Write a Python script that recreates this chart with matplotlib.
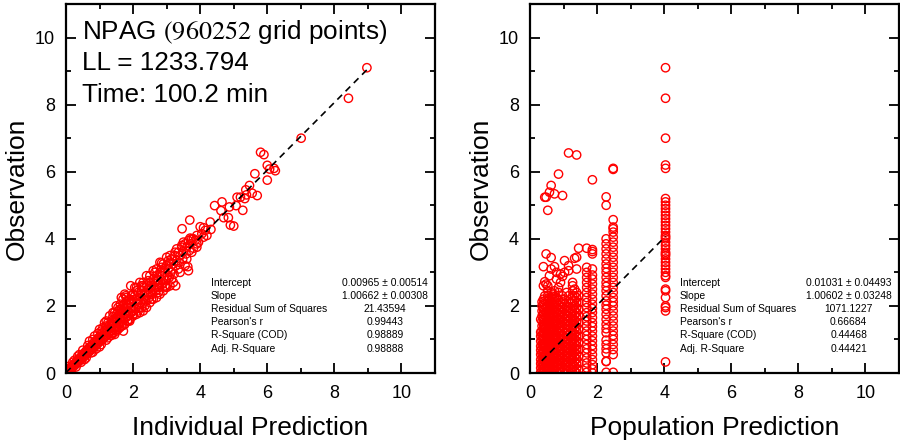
import matplotlib
matplotlib.use("Agg")
import matplotlib.pyplot as plt

plt.rcParams['font.family'] = ['Liberation Sans', 'DejaVu Sans']
plt.rcParams['mathtext.fontset'] = 'stix'

# ---- left panel: individual prediction vs observation ----
ipred = [0.05, 0.08, 0.10, 0.12, 0.15, 0.17, 0.20, 0.22, 0.25, 0.27, 0.30, 0.32, 0.35, 0.37, 0.40,
         0.42, 0.45, 0.47, 0.50, 0.52, 0.55, 0.57, 0.60, 0.62, 0.65, 0.67, 0.70, 0.72, 0.75, 0.77,
         0.80, 0.82, 0.85, 0.87, 0.90, 0.92, 0.95, 0.97, 1.00, 1.02, 1.05, 1.07, 1.10, 1.12, 1.15,
         1.17, 1.20, 1.22, 1.25, 1.27, 1.30, 1.32, 1.35, 1.37, 1.40, 1.42, 1.45, 1.47, 1.50, 1.52,
         1.55, 1.57, 1.60, 1.62, 1.65, 1.67, 1.70, 1.72, 1.75, 1.77, 1.80, 1.82, 1.85, 1.87, 1.90,
         1.92, 1.95, 1.97, 2.00, 2.02,
         0.12, 0.24, 0.36, 0.48, 0.58, 0.69, 0.79, 0.9, 1.0, 1.11, 1.21, 1.31, 1.42, 1.53, 1.63,
         1.74, 1.84, 1.95, 1.45, 1.55, 1.62, 1.7, 1.78, 1.38, 1.66, 1.83,
         2.05, 2.08, 2.10, 2.12, 2.15, 2.18, 2.20, 2.22, 2.25, 2.28, 2.30, 2.32, 2.35, 2.38, 2.40,
         2.42, 2.45, 2.48, 2.50, 2.52, 2.55, 2.58, 2.60, 2.62, 2.65, 2.68, 2.70, 2.72, 2.75, 2.78,
         2.80, 2.82, 2.85, 2.88, 2.90, 2.92, 2.95, 2.98, 3.00, 3.02, 2.15, 2.35, 2.55, 2.75, 2.3,
         3.05, 3.08, 3.10, 3.12, 3.15, 3.18, 3.20, 3.22, 3.25, 3.28, 3.30, 3.35, 3.38, 3.40, 3.45,
         3.48, 3.50, 3.55, 3.58, 3.60, 3.65, 3.68, 3.70, 3.75, 3.80, 3.85, 3.90, 3.95, 4.05, 4.15,
         4.20,
         0.15, 0.20, 0.30, 0.35, 0.45, 0.50, 0.60, 0.65, 0.75, 0.80, 0.90, 0.95, 1.05, 1.10, 1.20,
         1.25, 1.35, 1.40, 1.50, 1.55, 1.60, 1.70, 1.75, 1.80, 1.90, 1.95, 2.00, 1.65, 1.75, 1.50,
         1.30, 1.15, 1.00, 0.85, 0.70, 2.10, 2.20, 2.30, 2.40, 2.50, 2.60, 2.70, 2.80, 2.90, 3.00,
         3.10, 3.20, 3.30, 3.40, 3.50, 3.55, 2.25, 2.45, 2.65, 2.85, 3.05, 3.25, 3.45, 2.35, 2.55,
         2.75, 2.95, 3.15, 3.35, 3.60, 3.75, 3.90, 0.55, 0.40, 0.25, 0.10, 1.05, 1.20, 1.35, 1.50,
         1.65, 1.80, 1.90, 2.00, 2.10, 1.25, 1.40, 1.55, 1.70, 1.85, 2.00, 2.15, 2.25,
         2.05, 2.20, 2.40, 2.10, 2.30, 2.50, 2.70, 2.90, 3.10, 2.60, 2.80, 3.00, 1.20, 1.00, 0.80,
         1.45, 1.60, 1.80, 1.90, 1.40,
         8.97, 8.42, 7.01, 5.80, 5.90, 6.00, 6.07, 6.20, 6.24, 6.00, 5.63, 5.47, 5.36, 5.38, 5.70,
         5.10, 5.20, 5.33, 5.55, 4.43, 4.65, 4.87, 4.62, 5.27, 5.07, 4.70, 4.84, 4.90, 5.00, 3.69,
         3.46, 4.00, 4.10, 4.32, 4.30, 3.70, 3.80, 3.90, 4.10, 3.63, 3.65, 3.27, 2.97, 1.93, 1.71,
         2.85]
iobs = [0.06, 0.05, 0.13, 0.10, 0.17, 0.14, 0.22, 0.19, 0.27, 0.24, 0.33, 0.28, 0.38, 0.33, 0.44,
        0.38, 0.49, 0.43, 0.55, 0.47, 0.60, 0.52, 0.66, 0.57, 0.71, 0.62, 0.77, 0.66, 0.80, 0.71,
        0.87, 0.76, 0.92, 0.80, 0.97, 0.86, 1.03, 0.90, 1.08, 0.95, 1.16, 0.98, 1.20, 1.04, 1.26,
        1.08, 1.30, 1.13, 1.38, 1.17, 1.42, 1.22, 1.48, 1.27, 1.52, 1.31, 1.60, 1.36, 1.63, 1.40,
        1.70, 1.45, 1.74, 1.50, 1.80, 1.54, 1.86, 1.60, 1.93, 1.64, 1.96, 1.68, 2.03, 1.72, 2.07,
        1.78, 2.15, 1.82, 2.18, 1.86,
        0.13, 0.25, 0.37, 0.49, 0.6, 0.7, 0.81, 0.92, 1.02, 1.12, 1.23, 1.33, 1.44, 1.55, 1.65,
        1.76, 1.86, 1.96, 1.8, 1.95, 2.05, 2.2, 2.3, 1.2, 1.4, 1.55,
        2.30, 1.90, 2.20, 2.05, 2.40, 1.95, 2.30, 2.10, 2.45, 2.05, 2.55, 2.20, 2.40, 2.15, 2.62,
        2.30, 2.50, 2.25, 2.70, 2.40, 2.60, 2.35, 2.80, 2.50, 2.72, 2.45, 2.90, 2.60, 2.78, 2.55,
        3.00, 2.70, 2.90, 2.65, 3.10, 2.80, 3.00, 2.75, 3.20, 2.90, 2.15, 2.35, 2.55, 2.75, 2.6,
        3.10, 2.85, 3.30, 3.00, 3.40, 3.10, 3.25, 2.95, 3.50, 3.20, 3.35, 3.60, 3.30, 3.50, 3.75,
        3.40, 3.62, 3.85, 3.55, 3.75, 3.95, 3.65, 3.85, 4.00, 3.72, 3.95, 4.10, 3.90, 4.15, 4.25,
        4.10,
        0.05, 0.32, 0.18, 0.50, 0.32, 0.68, 0.45, 0.82, 0.60, 1.00, 0.72, 1.18, 0.85, 1.35, 0.98,
        1.50, 1.12, 1.68, 1.25, 1.85, 1.35, 2.00, 1.45, 2.15, 1.60, 2.30, 1.70, 2.25, 2.35, 2.00,
        1.70, 1.50, 1.30, 1.10, 0.95, 2.55, 1.80, 2.70, 1.95, 2.90, 2.20, 3.10, 2.35, 3.25, 2.55,
        3.50, 2.70, 3.70, 3.00, 3.90, 3.20, 2.60, 2.75, 3.00, 3.15, 3.35, 3.60, 3.80, 2.00, 2.20,
        2.40, 2.60, 2.80, 3.10, 3.40, 3.60, 3.75, 0.40, 0.55, 0.38, 0.20, 1.25, 1.40, 1.55, 1.75,
        1.90, 2.05, 2.20, 2.35, 2.45, 1.05, 1.18, 1.30, 1.42, 1.55, 1.75, 1.85, 1.95,
        2.55, 2.70, 2.90, 1.75, 1.85, 2.10, 2.25, 2.45, 2.60, 3.05, 3.30, 3.45, 1.55, 0.78, 0.62,
        1.15, 1.90, 2.25, 1.55, 1.80,
        9.10, 8.19, 7.00, 6.58, 6.51, 6.19, 6.08, 6.10, 6.03, 5.75, 5.94, 5.59, 5.46, 5.31, 5.29,
        5.24, 5.24, 5.20, 5.36, 4.99, 5.10, 4.95, 4.84, 4.85, 4.99, 4.63, 4.63, 4.41, 4.38, 4.56,
        4.30, 4.36, 4.33, 4.28, 4.50, 4.02, 4.00, 3.85, 4.05, 3.17, 3.05, 2.60, 2.57, 2.60, 1.25,
        3.28]

# ---- right panel: population prediction vs observation ----
pop_levels = [0.32, 0.36, 0.40, 0.44, 0.48, 0.53, 0.58, 0.63, 0.68, 0.73, 0.79, 0.85, 0.91,
              0.97, 1.03, 1.09, 1.15, 1.21, 1.27, 1.33, 1.39, 1.45, 1.69, 1.86, 2.27, 2.48, 4.04]
pop_obs = [
    [0.02, 0.15, 0.28, 0.4, 0.55, 0.68, 0.8, 0.95, 1.1, 1.22, 1.6],
    [0.05, 0.18, 0.3, 0.45, 0.58, 0.72, 0.85, 0.98, 1.12, 1.25, 1.4, 1.55, 1.7, 1.85, 2.0, 2.12],
    [0.0, 0.12, 0.25, 0.38, 0.5, 0.65, 0.78, 0.9, 1.05, 1.18, 1.32, 1.45, 1.6, 1.75, 1.9, 2.05,
     2.2, 2.6, 3.17],
    [0.08, 0.2, 0.35, 0.48, 0.6, 0.75, 0.88, 1.0, 1.15, 1.3, 1.42, 1.58, 1.72, 1.88, 2.02, 2.15,
     2.3, 2.72, 5.24],
    [0.03, 0.16, 0.3, 0.42, 0.56, 0.7, 0.82, 0.96, 1.1, 1.24, 1.38, 1.5, 1.65, 1.8, 1.95, 2.65,
     3.55, 5.24],
    [0.1, 0.22, 0.36, 0.5, 0.62, 0.76, 0.9, 1.02, 1.16, 1.3, 1.45, 1.58, 1.72, 1.86, 2.0, 2.15,
     2.3, 2.45, 2.6, 4.85],
    [0.02, 0.15, 0.28, 0.42, 0.55, 0.68, 0.82, 0.95, 1.08, 1.22, 1.36, 1.5, 1.64, 1.78, 1.92,
     2.05, 2.2, 2.9, 5.39],
    [0.06, 0.2, 0.34, 0.46, 0.6, 0.74, 0.86, 1.0, 1.14, 1.28, 1.4, 1.55, 1.68, 1.82, 1.96, 2.1,
     2.25, 2.4, 3.1, 3.44, 5.59],
    [0.0, 0.12, 0.26, 0.4, 0.52, 0.66, 0.8, 0.92, 1.06, 1.2, 1.34, 1.48, 1.62, 1.75, 1.9, 2.02,
     2.2, 2.35],
    [0.08, 0.22, 0.35, 0.48, 0.62, 0.75, 0.9, 1.02, 1.16, 1.3, 1.44, 1.58, 1.7, 1.85, 2.0, 2.14,
     2.28, 2.45, 3.17, 5.34],
    [0.04, 0.18, 0.3, 0.44, 0.58, 0.7, 0.84, 0.98, 1.1, 1.25, 1.38, 1.52, 1.66, 1.8, 1.94, 2.08,
     2.25, 2.8, 3.0],
    [0.1, 0.24, 0.36, 0.5, 0.64, 0.78, 0.9, 1.04, 1.18, 1.32, 1.45, 1.6, 1.74, 1.88, 2.02, 2.2,
     2.4, 2.55, 5.93],
    [0.02, 0.14, 0.28, 0.42, 0.55, 0.68, 0.82, 0.96, 1.1, 1.24, 1.36, 1.5, 1.65, 1.8, 1.95, 2.1,
     2.7, 2.95],
    [0.06, 0.2, 0.34, 0.48, 0.6, 0.74, 0.88, 1.0, 1.14, 1.28, 1.42, 1.55, 1.7, 1.84, 1.98, 2.12,
     2.3, 2.88, 5.29],
    [0.0, 0.12, 0.26, 0.4, 0.52, 0.66, 0.8, 0.94, 1.06, 1.2, 1.34, 1.48, 1.62, 1.76, 1.9, 2.05,
     2.2, 3.0, 3.35],
    [0.08, 0.22, 0.36, 0.5, 0.62, 0.76, 0.9, 1.04, 1.18, 1.3, 1.44, 1.58, 1.72, 1.86, 2.0, 2.4],
    [0.04, 0.18, 0.32, 0.45, 0.58, 0.72, 0.86, 1.0, 1.12, 1.26, 1.4, 1.54, 1.68, 1.82, 1.96,
     2.12, 2.3, 3.05, 3.2, 6.56],
    [0.1, 0.24, 0.38, 0.5, 0.64, 0.78, 0.92, 1.06, 1.2, 1.34, 1.48, 1.62, 1.78, 1.92, 2.1],
    [0.02, 0.16, 0.3, 0.44, 0.56, 0.7, 0.84, 0.98, 1.12, 1.26, 1.4, 1.54, 1.68, 1.82, 1.98, 2.15,
     2.3, 2.45, 2.6, 2.7],
    [0.06, 0.2, 0.34, 0.48, 0.62, 0.76, 0.88, 1.02, 1.16, 1.3, 1.44, 1.58, 1.72, 1.86, 2.0, 2.15,
     2.3, 2.5, 3.42],
    [0.0, 0.14, 0.28, 0.42, 0.56, 0.7, 0.82, 0.96, 1.1, 1.24, 1.38, 1.52, 1.66, 1.8, 1.95, 2.1,
     2.25, 2.4, 3.1, 3.45, 6.5],
    [0.1, 0.3, 0.5, 0.7, 0.9, 1.1, 1.3, 1.5, 1.7, 1.9, 2.1, 2.3, 3.72],
    [0.02, 0.15, 0.3, 0.45, 0.6, 0.72, 0.85, 1.0, 1.12, 1.25, 1.4, 1.55, 1.68, 1.8, 1.95, 2.1,
     2.25, 2.4, 2.55, 2.7, 2.85, 3.0, 3.15, 3.72],
    [0.0, 0.12, 0.25, 0.4, 0.55, 0.7, 0.82, 0.96, 1.1, 1.25, 1.38, 1.5, 1.65, 1.8, 1.92, 2.05,
     2.2, 2.35, 2.5, 2.65, 2.8, 2.92, 3.1, 3.55, 3.62, 3.68, 5.76],
    [0.02, 0.34, 0.35, 0.6, 0.72, 0.85, 0.98, 1.2, 1.32, 1.45, 1.6, 1.75, 1.9, 2.02, 2.15, 2.3,
     2.45, 2.58, 2.7, 2.85, 3.0, 3.12, 3.25, 3.4, 3.55, 3.7, 3.85, 4.0, 5.0, 5.25],
    [0.02, 0.55, 0.7, 0.85, 1.0, 1.12, 1.25, 1.4, 1.55, 1.7, 1.85, 2.0, 2.12, 2.25, 2.4, 2.55,
     2.7, 2.85, 3.0, 3.15, 3.3, 3.45, 3.6, 3.75, 3.9, 4.05, 4.2, 4.3, 4.35, 4.57, 6.07, 6.1],
    [9.1, 8.19, 7.0, 6.2, 6.1, 5.2, 5.1, 5.0, 4.9, 4.8, 4.7, 4.6, 4.5, 4.4, 4.3, 4.2, 4.1, 4.05,
     4.0, 3.9, 3.8, 3.7, 3.6, 3.55, 3.5, 3.4, 3.3, 3.2, 3.1, 3.0, 2.9, 2.85, 2.5, 2.45, 2.25,
     2.0, 1.95, 1.85, 0.33],
]

stat_names = ["Intercept", "Slope", "Residual Sum of Squares", "Pearson's r",
              "R-Square (COD)", "Adj. R-Square"]
stats_ind = ["0.00965 \u00b1 0.00514", "1.00662 \u00b1 0.00308", "21.43594",
             "0.99443", "0.98889", "0.98888"]
stats_pop = ["0.01031 \u00b1 0.04493", "1.00602 \u00b1 0.03248", "1071.1227",
             "0.66684", "0.44468", "0.44421"]
fit_ind = (0.00965, 1.00662)
fit_pop = (0.01031, 1.00602)

pop_x = []
pop_y = []
for lvl, ys in zip(pop_levels, pop_obs):
    for v in ys:
        pop_x.append(lvl)
        pop_y.append(v)

fig = plt.figure(figsize=(9, 4.46), dpi=100)
ax1 = fig.add_axes([66/900, 73/446, 369/900, 369/446])
ax2 = fig.add_axes([530/900, 73/446, 369/900, 369/446])


def style(ax, xlabel, ylabel):
    ax.set_xlim(0, 11)
    ax.set_ylim(0, 11)
    ax.set_xticks([0, 2, 4, 6, 8, 10])
    ax.set_yticks([0, 2, 4, 6, 8, 10])
    ax.set_xticks([1, 3, 5, 7, 9], minor=True)
    ax.set_yticks([1, 3, 5, 7, 9], minor=True)
    ax.tick_params(which='both', direction='in', top=True, right=True, width=1.3,
                   labelsize=13)
    ax.tick_params(which='major', length=7)
    ax.tick_params(which='minor', length=3.5)
    ax.tick_params(axis='x', pad=9)
    ax.tick_params(axis='y', pad=8)
    for s in ax.spines.values():
        s.set_linewidth(1.6)
    ax.set_xlabel(xlabel, fontsize=19, labelpad=10)
    ax.set_ylabel(ylabel, fontsize=19, labelpad=4)


def stats_box(ax, x_lab, x_val, values):
    for i, (name, val) in enumerate(zip(stat_names, values)):
        y = 2.68 - i * 0.39
        ax.text(x_lab, y, name, fontsize=7.4, va='center', ha='left')
        ax.text(x_val, y, val, fontsize=7.4, va='center', ha='center')


ax1.scatter(ipred, iobs, s=36, facecolors='none', edgecolors='red', linewidths=1.0, zorder=2)
xs = [0.0, max(ipred)]
ax1.plot(xs, [fit_ind[0] + fit_ind[1] * v for v in xs], color='black', ls=(0, (4, 3)),
         lw=1.2, zorder=3)
style(ax1, "Individual Prediction", "Observation")
ax1.text(0.47, 9.95, "NPAG $\\mathrm{(960252}$ grid points)", fontsize=18.8)
ax1.text(0.47, 9.02, "LL = 1233.794", fontsize=18.8)
ax1.text(0.47, 8.08, "Time: 100.2 min", fontsize=18.8)
stats_box(ax1, 4.31, 9.51, stats_ind)

ax2.scatter(pop_x, pop_y, s=36, facecolors='none', edgecolors='red', linewidths=1.0, zorder=2)
xs = [0.35, max(pop_levels)]
ax2.plot(xs, [fit_pop[0] + fit_pop[1] * v for v in xs], color='black', ls=(0, (4, 3)),
         lw=1.2, zorder=3)
style(ax2, "Population Prediction", "Observation")
stats_box(ax2, 4.46, 9.5, stats_pop)

fig.savefig("out.png", dpi=100)
